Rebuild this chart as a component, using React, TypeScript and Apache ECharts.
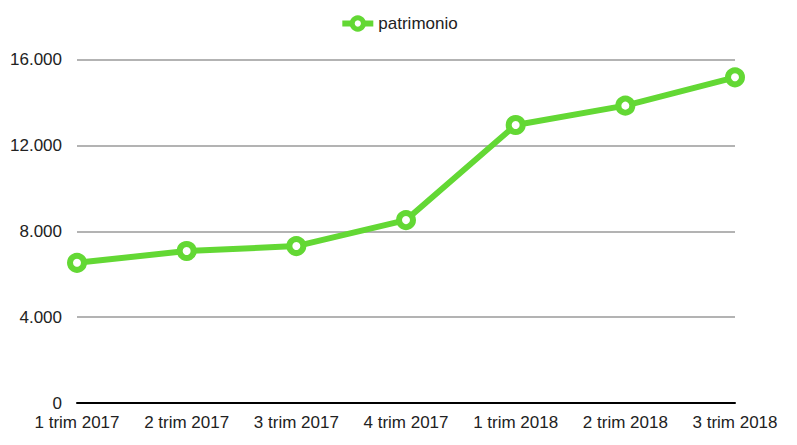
import React, { useEffect, useRef } from "react";
import * as echarts from "echarts";

const categories = ["1 trim 2017", "2 trim 2017", "3 trim 2017", "4 trim 2017", "1 trim 2018", "2 trim 2018", "3 trim 2018"];
const patrimonio = [6530, 7080, 7310, 8520, 12950, 13850, 15170];
const seriesName = "patrimonio";

const FONT = "'Liberation Sans', Arial, sans-serif";

export default function App() {
  const ref = useRef<HTMLDivElement>(null);
  useEffect(() => {
    if (!ref.current) return;
    const chart = echarts.init(ref.current, null, { renderer: "svg" });
    chart.setOption({
      animation: false,
      textStyle: { fontFamily: FONT },
      legend: {
        top: 10,
        left: "center",
        itemWidth: 31,
        itemHeight: 14,
        itemGap: 10,
        lineStyle: { width: 6, color: "#63d834" },
        itemStyle: { color: "#fff", borderColor: "#63d834", borderWidth: 5 },
        textStyle: { fontSize: 17, color: "#222", fontFamily: FONT },
        data: [seriesName],
      },
      grid: { left: 77, right: 62, top: 59.5, bottom: 42, containLabel: false },
      xAxis: {
        type: "category",
        data: categories,
        boundaryGap: false,
        axisLine: { lineStyle: { color: "#000", width: 2 } },
        axisTick: { show: false },
        axisLabel: { interval: 0, fontSize: 17, color: "#222", margin: 11, fontFamily: FONT },
      },
      yAxis: {
        type: "value",
        min: 0,
        max: 16000,
        interval: 4000,
        axisLine: { show: false },
        axisTick: { show: false },
        splitLine: { lineStyle: { color: "#b3b3b3", width: 2 } },
        axisLabel: {
          fontSize: 17,
          color: "#222",
          margin: 15,
          fontFamily: FONT,
          formatter: (v: number) => v.toLocaleString("de-DE"),
        },
      },
      series: [
        {
          name: seriesName,
          type: "line",
          data: patrimonio,
          symbol: "circle",
          symbolSize: 14,
          lineStyle: { color: "#63d834", width: 6 },
          itemStyle: { color: "#fff", borderColor: "#63d834", borderWidth: 6 },
          z: 3,
        },
      ],
    });
    return () => chart.dispose();
  }, []);
  return <div ref={ref} style={{ width: 797, height: 445, position: "absolute", left: 0, top: 0 }} />;
}
